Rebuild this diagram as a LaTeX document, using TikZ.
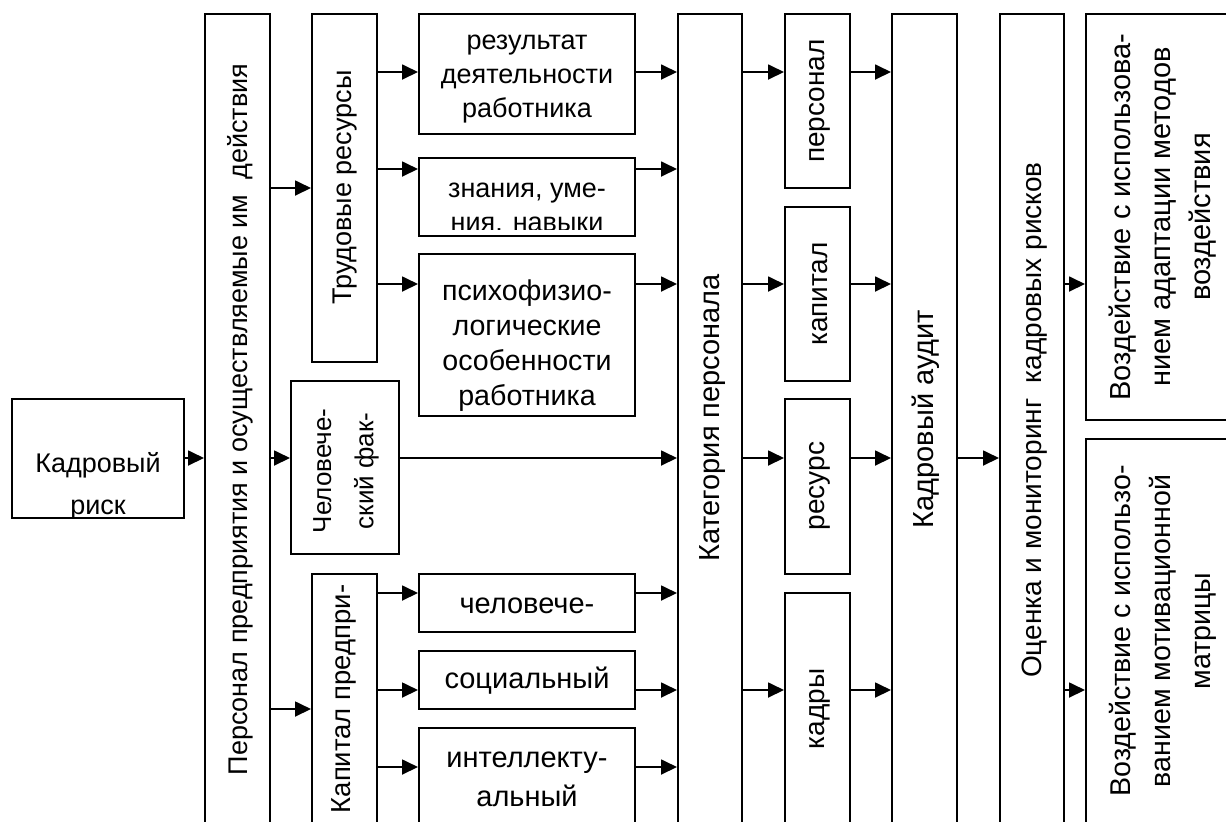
\documentclass[tikz,border=0pt]{standalone}
\usepackage{fontspec}
\setmainfont{Liberation Sans}
\usetikzlibrary{arrows.meta,fit}
\begin{document}
\begin{tikzpicture}[x=0.5pt,y=-0.5pt,
  box/.style={draw,line width=1pt,inner sep=0pt},
  lbl/.style 2 args={inner sep=0pt,align=center,font=\fontsize{#1}{#2}\selectfont},
  vert/.style={rotate=90},
  arr/.style={-{Triangle[length=8pt,width=7.5pt]},line width=0.9pt}]
\useasboundingbox (0,0) rectangle (1226,821);
\clip (0,0) rectangle (1226,821);

% boxes
\node[box,fit={(12,399)(184,518)}] (kr) {};
\node[box,fit={(205,14)(270,840)}] (pers) {};
\node[box,fit={(312,14)(377,362)}] (trud) {};
\node[box,fit={(291,381)(399,554)}] (chel) {};
\node[box,fit={(312,574)(377,840)}] (kap) {};
\node[box,fit={(419,14)(635,134)}] (rez) {};
\node[box,fit={(419,158)(635,236)}] (zn) {};
\node[box,fit={(419,254)(635,416)}] (psy) {};
\node[box,fit={(419,574)(635,632)}] (chl) {};
\node[box,fit={(419,651)(635,709)}] (soc) {};
\node[box,fit={(419,728)(635,840)}] (int) {};
\node[box,fit={(678,14)(742,840)}] (kat) {};
\node[box,fit={(785,14)(850,188)}] (prs) {};
\node[box,fit={(785,207)(850,381)}] (kpt) {};
\node[box,fit={(785,399)(850,574)}] (res) {};
\node[box,fit={(785,593)(850,840)}] (kdr) {};
\node[box,fit={(892,14)(957,840)}] (aud) {};
\node[box,fit={(1000,14)(1064,840)}] (otc) {};
\node[box,fit={(1086,14)(1240,420)}] (vz1) {};
\node[box,fit={(1086,439)(1240,840)}] (vz2) {};

% texts
\begin{scope}
\clip (14,401) rectangle (182,516);
\node[lbl={13.5pt}{21pt}] (krt) at (98,486) {Кадровый\\риск};
\end{scope}
\node[lbl={13.5pt}{17pt},vert] (perst) at (240,419.5) {Персонал предприятия и осуществляемые им~ действия};
\node[lbl={13.5pt}{17pt},vert] (trudt) at (345,187.5) {Трудовые ресурсы};
\node[lbl={13pt}{21pt},vert] (chelt) at (346,471) {Человече-\\ский фак-};
\node[lbl={13.75pt}{17pt},vert] (kapt) at (344,699) {Капитал предпри-};
\node[lbl={13.5pt}{17pt}] (rezt) at (527,79) {результат\\деятельности\\работника};
\begin{scope}
\clip (421,160) rectangle (633,229);
\node[lbl={13.5pt}{17pt}] (znt) at (527,207) {знания, уме-\\ния. навыки};
\end{scope}
\node[lbl={14.3pt}{17.5pt}] (psyt) at (527,346) {психофизио-\\логические\\особенности\\работника};
\node[lbl={14.5pt}{17pt}] (chlt) at (527,606) {человече-};
\node[lbl={14.5pt}{17pt}] (soct) at (527,681) {социальный};
\node[lbl={14.5pt}{19.5pt}] (intt) at (527,779) {интеллекту-\\альный};
\node[lbl={14.5pt}{17pt},vert] (katt) at (713,418) {Категория персонала};
\node[lbl={14pt}{17pt},vert] (prst) at (820,101) {персонал};
\node[lbl={14pt}{17pt},vert] (kptt) at (820,294) {капитал};
\begin{scope}
\clip (787,401) rectangle (834,572);
\node[lbl={14pt}{17pt},vert] (rest) at (820,486) {ресурс};
\end{scope}
\node[lbl={14pt}{17pt},vert] (kdrt) at (820,709) {кадры};
\node[lbl={14.5pt}{17pt},vert] (audt) at (926,419) {Кадровый аудит};
\begin{scope}
\clip (1002,16) rectangle (1054,819);
\node[lbl={14pt}{17pt},vert] (otct) at (1035,420) {Оценка и мониторинг~ кадровых рисков};
\end{scope}
\node[lbl={14.5pt}{20pt},vert] (vz1t) at (1163,217) {Воздействие с использова-\\нием адаптации методов\\воздействия};
\node[lbl={14.3pt}{20pt},vert] (vz2t) at (1163,631) {Воздействие с использо-\\ванием мотивационной\\матрицы};

% connectors
\draw[arr] (kr.east |- 0,458) -- (pers.west |- 0,458);
\draw[arr] (pers.east |- 0,188) -- (trud.west |- 0,188);
\draw[arr] (pers.east |- 0,458) -- (chel.west |- 0,458);
\draw[arr] (pers.east |- 0,709) -- (kap.west |- 0,709);
\draw[arr] (trud.east |- 0,72) -- (rez.west |- 0,72);
\draw[arr] (trud.east |- 0,169) -- (zn.west |- 0,169);
\draw[arr] (trud.east |- 0,284) -- (psy.west |- 0,284);
\draw[arr] (kap.east |- 0,593) -- (chl.west |- 0,593);
\draw[arr] (kap.east |- 0,690) -- (soc.west |- 0,690);
\draw[arr] (kap.east |- 0,767) -- (int.west |- 0,767);
\draw[arr] (rez.east |- 0,72) -- (kat.west |- 0,72);
\draw[arr] (zn.east |- 0,169) -- (kat.west |- 0,169);
\draw[arr] (psy.east |- 0,284) -- (kat.west |- 0,284);
\draw[arr] (chel.east |- 0,458) -- (kat.west |- 0,458);
\draw[arr] (chl.east |- 0,593) -- (kat.west |- 0,593);
\draw[arr] (soc.east |- 0,690) -- (kat.west |- 0,690);
\draw[arr] (int.east |- 0,767) -- (kat.west |- 0,767);
\draw[arr] (kat.east |- 0,72) -- (prs.west |- 0,72);
\draw[arr] (kat.east |- 0,284) -- (kpt.west |- 0,284);
\draw[arr] (kat.east |- 0,458) -- (res.west |- 0,458);
\draw[arr] (kat.east |- 0,690) -- (kdr.west |- 0,690);
\draw[arr] (prs.east |- 0,72) -- (aud.west |- 0,72);
\draw[arr] (kpt.east |- 0,284) -- (aud.west |- 0,284);
\draw[arr] (res.east |- 0,458) -- (aud.west |- 0,458);
\draw[arr] (kdr.east |- 0,690) -- (aud.west |- 0,690);
\draw[arr] (aud.east |- 0,458) -- (otc.west |- 0,458);
\draw[arr] (otc.east |- 0,284) -- (vz1.west |- 0,284);
\draw[arr] (otc.east |- 0,690) -- (vz2.west |- 0,690);
\end{tikzpicture}
\end{document}
